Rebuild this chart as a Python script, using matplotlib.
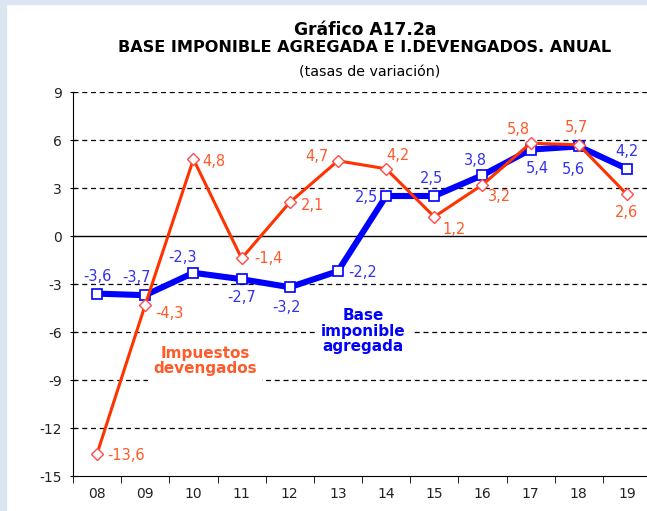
import matplotlib.pyplot as plt
from matplotlib.patches import Rectangle

years = ['08', '09', '10', '11', '12', '13', '14', '15', '16', '17', '18', '19']
impuestos = [-13.6, -4.3, 4.8, -1.4, 2.1, 4.7, 4.2, 1.2, 3.2, 5.8, 5.7, 2.6]
base = [-3.6, -3.7, -2.3, -2.7, -3.2, -2.2, 2.5, 2.5, 3.8, 5.4, 5.6, 4.2]

# label offsets in pixels (dx, dy, ha)
imp_off = [(10, -2, 'left'), (10, -9, 'left'), (9, -2, 'left'), (13, 0, 'left'), (11, -3, 'left'),
           (-21, 4, 'center'), (12, 13, 'center'), (20, -13, 'center'), (17, -12, 'center'),
           (-12, 14, 'center'), (-2, 17, 'center'), (0, -18, 'center')]
base_off = [(0, 17, 'center'), (-9, 18, 'center'), (-11, 15, 'center'), (0, -18, 'center'),
            (-3, -20, 'center'), (10, -1, 'left'), (-8, -1, 'right'), (-3, 18, 'center'),
            (-7, 15, 'center'), (7, -19, 'center'), (-5, -23, 'center'), (0, 17, 'center')]

RED = '#ff3300'
RED_MK = '#ff4a4a'
RED_TXT = '#ff5a2a'
BLUE = '#0000ff'
BLUE_TXT = '#3333ee'

plt.rcParams['font.family'] = 'DejaVu Sans'
plt.rcParams['axes.unicode_minus'] = False

fig = plt.figure(figsize=(6.47, 5.11), dpi=100)
fig.patches.append(Rectangle((0, 0), 6 / 647, 1, transform=fig.transFigure, color='#dce6f2', zorder=0))
fig.patches.append(Rectangle((0, 1 - 4 / 511), 1, 4 / 511, transform=fig.transFigure, color='#dce6f2', zorder=0))

ax = fig.add_axes([73 / 647, 35 / 511, 578 / 647, 384 / 511])
x = list(range(len(years)))

ax.set_ylim(-15, 9)
ax.set_xlim(-0.5, 11.5)
ax.set_yticks(range(-15, 10, 3))
ax.set_xticks(x)
ax.set_xticklabels(years)
ax.set_xticks([i + 0.5 for i in range(-1, 12)], minor=True)
ax.tick_params(axis='x', which='major', length=0, pad=8, labelsize=10, labelcolor='#222222')
ax.tick_params(axis='x', which='minor', length=5, direction='out')
ax.tick_params(axis='y', length=4, direction='inout', labelsize=10, pad=6, labelcolor='#222222')

for v in range(-12, 10, 3):
    if v != 0:
        ax.axhline(v, color='black', linestyle=(0, (4, 3)), linewidth=0.9, zorder=1)
ax.axhline(0, color='black', linewidth=1.0, zorder=1)

for s in ['top', 'right']:
    ax.spines[s].set_visible(False)

ax.plot(x, base, color=BLUE, linewidth=4.4, marker='s', markersize=7.5,
        markerfacecolor='white', markeredgecolor=BLUE, markeredgewidth=1.2, zorder=3)
ax.plot(x, impuestos, color=RED, linewidth=2.2, marker='D', markersize=6.5,
        markerfacecolor='white', markeredgecolor=RED_MK, markeredgewidth=1.0, zorder=4)

for i, v in enumerate(impuestos):
    dx, dy, ha = imp_off[i]
    ax.annotate(f'{v:.1f}'.replace('.', ','), (i, v), xytext=(dx, dy), textcoords='offset pixels',
                ha=ha, va='center', color=RED_TXT, fontsize=10.5, zorder=5)
for i, v in enumerate(base):
    dx, dy, ha = base_off[i]
    ax.annotate(f'{v:.1f}'.replace('.', ','), (i, v), xytext=(dx, dy), textcoords='offset pixels',
                ha=ha, va='center', color=BLUE_TXT, fontsize=10.5, zorder=5)

ax.text(2.24, -7.8, 'Impuestos\ndevengados', color=RED_TXT, fontsize=11, fontweight='bold',
        ha='center', va='center', linespacing=1.05,
        bbox=dict(facecolor='white', edgecolor='none', pad=4), zorder=2)
ax.text(5.52, -5.94, 'Base\nimponible\nagregada', color=BLUE, fontsize=11, fontweight='bold',
        ha='center', va='center', linespacing=1.05,
        bbox=dict(facecolor='white', edgecolor='none', pad=4), zorder=2)

fig.text(365 / 647, 1 - 30 / 511, 'Gráfico A17.2a', ha='center', va='center', fontsize=12.3, fontweight='bold')
fig.text(365 / 647, 1 - 48 / 511, 'BASE IMPONIBLE AGREGADA E I.DEVENGADOS. ANUAL', ha='center', va='center',
         fontsize=11.6, fontweight='bold')
fig.text(370 / 647, 1 - 72 / 511, '(tasas de variación)', ha='center', va='center', fontsize=10.3)

fig.savefig('out.png', dpi=100)
